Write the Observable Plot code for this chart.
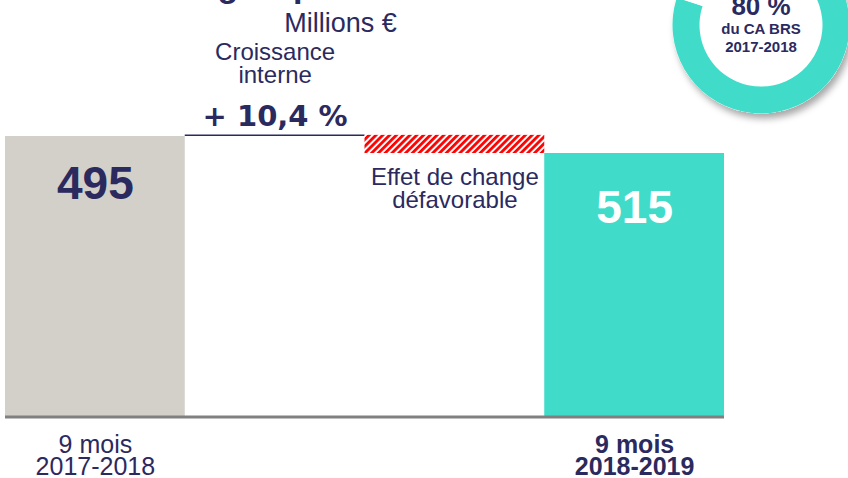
<!DOCTYPE html>
<html><head><meta charset="utf-8">
<script src="https://cdn.jsdelivr.net/npm/d3@7"></script>
<script src="https://cdn.jsdelivr.net/npm/@observablehq/plot@0.6"></script>
<style>html,body{margin:0;padding:0;background:#fff;} svg{display:block}</style>
</head><body><div id="chart"></div>
<script>
// ---- data (the drawing is schematic, bar extents in its own units) ----
const categories = ["9 mois 2017-2018", "Croissance interne", "Effet de change", "9 mois 2018-2019"];
const barBase = [0, 495, 497, 0];
const barTop = [495, 497, 465, 465];
const valueLabels = ["495", "515"];
const growthLabel = "+ 10,4 %";
const growthText = ["Croissance", "interne"];
const fxText = ["Effet de change", "défavorable"];
const periodStart = ["9 mois", "2017-2018"];
const periodEnd = ["9 mois", "2018-2019"];
const unitLabel = "Millions €";
const titleText = "groupe";
const donutShares = [80, 20];
const donutText = ["80 %", "du CA BRS", "2017-2018"];

// ---- styles ----
const navy = "#2b2a5f";
const teal = "#40dcc9";
const grey = "#d3d0ca";
const FONT = "Liberation Sans, Arial, sans-serif";

const bars = categories.map((c, i) => ({cat: c, y1: barBase[i], y2: barTop[i]}));

const defs = () => {
  const d = d3.create("svg:defs");
  const p = d.append("pattern").attr("id", "hatch").attr("patternUnits", "userSpaceOnUse")
    .attr("width", 4.8).attr("height", 4.8).attr("patternTransform", "rotate(45)");
  p.append("rect").attr("width", 4.8).attr("height", 4.8).attr("fill", "#fff");
  p.append("rect").attr("width", 2.8).attr("height", 4.8).attr("fill", "#ff0000");
  const f = d.append("filter").attr("id", "shadow").attr("x", "-30%").attr("y", "-30%").attr("width", "160%").attr("height", "160%");
  f.append("feDropShadow").attr("dx", 3).attr("dy", 5).attr("stdDeviation", 3.5)
    .attr("flood-color", "#000").attr("flood-opacity", 0.35);
  return d.node();
};

const donut = () => {
  const g = d3.create("svg:g").attr("transform", "translate(761,25)");
  const pie = d3.pie().sort(null).value(d => d)(donutShares);
  const arc = d3.arc().innerRadius(61.5).outerRadius(88.5);
  g.append("circle").attr("r", 88.5).attr("fill", "#fff").attr("filter", "url(#shadow)");
  g.selectAll("path.slice").data(pie).join("path")
    .attr("d", arc).attr("fill", (d, i) => i === 0 ? teal : "#fff");
  const t = g.append("g").attr("font-family", FONT).attr("font-weight", "bold")
    .attr("fill", navy).attr("text-anchor", "middle");
  t.append("text").attr("y", -10).attr("font-size", 26).text(donutText[0]);
  t.append("text").attr("y", 9).attr("font-size", 15).text(donutText[1]);
  t.append("text").attr("y", 27).attr("font-size", 15).text(donutText[2]);
  return g.node();
};

const txt = (s, cat, o) => Plot.text([s], {
  x: () => cat, text: d => d, fontFamily: FONT, fill: navy, frameAnchor: "top", lineAnchor: "middle", ...o
});

const chart = Plot.plot({
  width: 848, height: 478,
  marginLeft: 5, marginRight: 124, marginTop: 136, marginBottom: 61.5,
  x: {type: "band", domain: categories, padding: 0, round: false, axis: null},
  y: {domain: [0, 495], axis: null},
  style: {background: "#fff", overflow: "visible"},
  marks: [
    defs,
    donut,
    Plot.barY([bars[0]], {x: "cat", y1: "y1", y2: "y2", fill: grey}),
    Plot.tickY([bars[1]], {x: "cat", y: "y2", stroke: navy, strokeWidth: 1.5}),
    Plot.barY([bars[2]], {x: "cat", y1: "y1", y2: "y2", fill: "url(#hatch)"}),
    Plot.barY([bars[3]], {x: "cat", y1: "y1", y2: "y2", fill: teal}),
    Plot.ruleY([0], {stroke: "#808080", strokeWidth: 3}),
    txt(titleText, categories[1], {fontSize: 34, fontWeight: "bold", dy: -149.9}),
    txt(unitLabel, categories[1], {fontSize: 27, dx: 65.4, dy: -113.6}),
    txt(growthText[0], categories[1], {fontSize: 24, dy: -83.7}),
    txt(growthText[1], categories[1], {fontSize: 24, dy: -60.7}),
    txt(growthLabel, categories[1], {fontSize: 29, fontWeight: "bold", fontFamily: "DejaVu Sans, sans-serif", dy: -19.3}),
    txt(valueLabels[0], categories[0], {fontSize: 46, fontWeight: "bold", dy: 47.3}),
    txt(valueLabels[1], categories[3], {fontSize: 46, fontWeight: "bold", fill: "#fff", dy: 71.3}),
    txt(fxText[0], categories[2], {fontSize: 24, dy: 41.3}),
    txt(fxText[1], categories[2], {fontSize: 24, dy: 64.3}),
    txt(periodStart[0], categories[0], {fontSize: 25, frameAnchor: "bottom", dy: 27.5}),
    txt(periodStart[1], categories[0], {fontSize: 25, frameAnchor: "bottom", dy: 49.5}),
    txt(periodEnd[0], categories[3], {fontSize: 25, fontWeight: "bold", frameAnchor: "bottom", dy: 27.5}),
    txt(periodEnd[1], categories[3], {fontSize: 25, fontWeight: "bold", frameAnchor: "bottom", dy: 49.5})
  ]
});
document.getElementById("chart").appendChild(chart);
</script>
</body></html>
